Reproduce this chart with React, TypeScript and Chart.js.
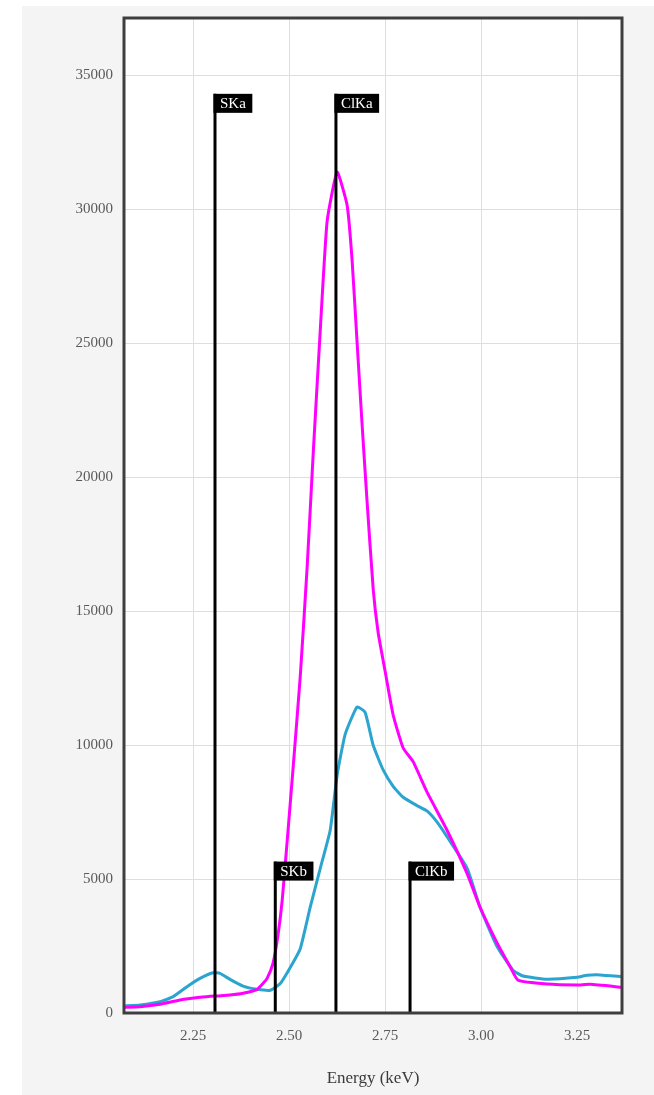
import React, { useEffect, useRef } from "react";
import { Chart, registerables } from "chart.js";

Chart.register(...registerables);

// Spectrum 1 (magenta)
const magentaEnergy = [2.070, 2.112, 2.164, 2.216, 2.268, 2.307, 2.346, 2.380, 2.417, 2.432, 2.443, 2.458, 2.471, 2.482, 2.495, 2.510, 2.529, 2.547, 2.563, 2.581, 2.599, 2.625, 2.651, 2.664, 2.677, 2.690, 2.703, 2.719, 2.732, 2.750, 2.771, 2.797, 2.823, 2.859, 2.911, 2.964, 2.997, 3.042, 3.076, 3.096, 3.172, 3.250, 3.284, 3.367];
const magentaCounts = [210, 235, 325, 485, 585, 635, 670, 735, 885, 1100, 1300, 1850, 2900, 4200, 6420, 9070, 12550, 16640, 20940, 25440, 29540, 31380, 30150, 28100, 25040, 21980, 19100, 15820, 14190, 12760, 11120, 9890, 9380, 8250, 6830, 5190, 3955, 2610, 1720, 1230, 1080, 1045, 1070, 960];

// Spectrum 2 (blue)
const blueEnergy = [2.070, 2.112, 2.164, 2.198, 2.234, 2.268, 2.302, 2.320, 2.346, 2.380, 2.417, 2.451, 2.477, 2.503, 2.529, 2.555, 2.581, 2.607, 2.625, 2.646, 2.677, 2.698, 2.719, 2.745, 2.771, 2.797, 2.833, 2.859, 2.885, 2.919, 2.964, 2.997, 3.042, 3.083, 3.109, 3.172, 3.250, 3.276, 3.310, 3.367];
const blueCounts = [260, 300, 420, 610, 980, 1290, 1500, 1480, 1255, 1005, 885, 850, 1100, 1700, 2400, 3955, 5390, 6820, 8865, 10400, 11420, 11220, 9990, 9070, 8460, 8050, 7740, 7540, 7130, 6410, 5390, 3955, 2470, 1600, 1380, 1260, 1330, 1405, 1420, 1355];

// Element line markers
const markerNames = ["SKa", "SKb", "ClKa", "ClKb"];
const markerEnergy = [2.307, 2.464, 2.622, 2.815];
const markerHeight = [34300, 5650, 34300, 5650];

// Axes
const xTicks = [2.25, 2.5, 2.75, 3.0, 3.25];
const yTicks = [0, 5000, 10000, 15000, 20000, 25000, 30000, 35000];
const xMin = 2.07;
const xMax = 3.367;
const yMin = 0;
const yMax = 37130;

const SERIF = "'Times New Roman', 'Liberation Serif', serif";

export default function App() {
  const ref = useRef<HTMLCanvasElement | null>(null);

  useEffect(() => {
    if (!ref.current) return;

    const markerSets = markerNames.map((name, i) => ({
      label: name,
      data: [
        { x: markerEnergy[i], y: 0 },
        { x: markerEnergy[i], y: markerHeight[i] },
      ],
      borderColor: "#000000",
      borderWidth: 3,
      pointRadius: 0,
      tension: 0,
      isMarker: true,
    }));

    const framePlugin = {
      id: "frame",
      beforeDraw(chart: any) {
        const { ctx, chartArea } = chart;
        ctx.save();
        ctx.fillStyle = "#ffffff";
        ctx.fillRect(
          chartArea.left,
          chartArea.top,
          chartArea.right - chartArea.left,
          chartArea.bottom - chartArea.top
        );
        ctx.restore();
      },
      afterDatasetsDraw(chart: any) {
        const { ctx, chartArea } = chart;
        ctx.save();
        chart.data.datasets.forEach((ds: any, i: number) => {
          if (!ds.isMarker) return;
          const meta = chart.getDatasetMeta(i);
          const top = meta.data[1];
          ctx.font = `15px ${SERIF}`;
          const tw = ctx.measureText(ds.label).width;
          const bx = top.x - 1.5;
          const by = top.y;
          const bw = tw + 13;
          const bh = 19;
          ctx.fillStyle = "#000000";
          ctx.fillRect(bx, by, bw, bh);
          ctx.fillStyle = "#ffffff";
          ctx.textBaseline = "middle";
          ctx.textAlign = "left";
          ctx.fillText(ds.label, bx + 6.5, by + bh / 2 + 1);
        });
        ctx.strokeStyle = "#3e3e3e";
        ctx.lineWidth = 3;
        ctx.strokeRect(
          chartArea.left,
          chartArea.top,
          chartArea.right - chartArea.left,
          chartArea.bottom - chartArea.top
        );
        ctx.restore();
      },
    };

    const chart = new Chart(ref.current, {
      type: "line",
      data: {
        datasets: [
          ...markerSets,
          {
            label: "Spectrum 1",
            data: magentaEnergy.map((x, i) => ({ x, y: magentaCounts[i] })),
            borderColor: "#ff00ff",
            borderWidth: 3,
            pointRadius: 0,
            tension: 0.15,
          },
          {
            label: "Spectrum 2",
            data: blueEnergy.map((x, i) => ({ x, y: blueCounts[i] })),
            borderColor: "#2ba4cf",
            borderWidth: 3,
            pointRadius: 0,
            tension: 0.15,
          },
        ] as any,
      },
      options: {
        animation: false,
        responsive: false,
        parsing: false as any,
        layout: { padding: { top: 12, right: 32, left: 0, bottom: 0 } },
        plugins: {
          legend: { display: false },
          tooltip: { enabled: false },
        },
        scales: {
          x: {
            type: "linear",
            min: xMin,
            max: xMax,
            afterBuildTicks: (scale: any) => {
              scale.ticks = xTicks.map((v) => ({ value: v }));
            },
            afterFit: (scale: any) => {
              scale.height = 82;
              scale.paddingLeft = 0;
              scale.paddingRight = 0;
            },
            grid: { color: "#dedede", lineWidth: 1, drawTicks: false },
            border: { display: false },
            ticks: {
              padding: 14,
              color: "#5a5a5a",
              font: { family: SERIF, size: 15 },
              maxRotation: 0,
              callback: (v: any) => Number(v).toFixed(2),
            },
            title: {
              display: true,
              text: "Energy (keV)",
              color: "#3a3a3a",
              font: { family: SERIF, size: 17 },
              padding: { top: 4, bottom: 6 },
            },
          },
          y: {
            type: "linear",
            min: yMin,
            max: yMax,
            afterBuildTicks: (scale: any) => {
              scale.ticks = yTicks.map((v) => ({ value: v }));
            },
            afterFit: (scale: any) => {
              scale.width = 102;
              scale.paddingTop = 0;
              scale.paddingBottom = 0;
            },
            grid: { color: "#dedede", lineWidth: 1, drawTicks: false },
            border: { display: false },
            ticks: {
              padding: 11,
              color: "#5a5a5a",
              font: { family: SERIF, size: 15 },
              callback: (v: any) => String(v),
            },
          },
        },
      },
      plugins: [framePlugin],
    });

    return () => chart.destroy();
  }, []);

  return (
    <div
      style={{
        position: "absolute",
        left: 22,
        top: 6,
        width: 632,
        height: 1089,
        background: "#f4f4f4",
      }}
    >
      <canvas
        ref={ref}
        width={632}
        height={1089}
        style={{ display: "block", width: 632, height: 1089 }}
      />
    </div>
  );
}
